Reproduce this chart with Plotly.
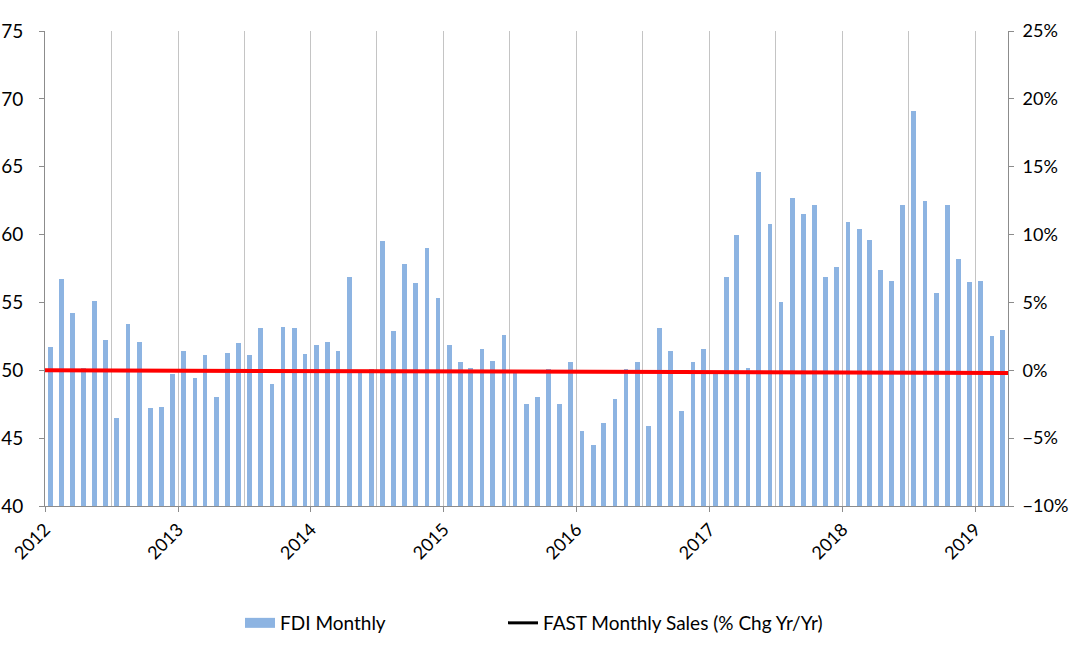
import plotly.graph_objects as go
import pandas as pd

# ---- data ----
months = pd.date_range("2012-01-01", "2019-03-01", freq="MS")
fdi_monthly = [
    51.7, 56.7, 54.2, 50.2, 55.1, 52.2, 46.5, 53.4, 52.1, 47.2, 47.3, 49.7,  # 2012
    51.4, 49.4, 51.1, 48.0, 51.3, 52.0, 51.1, 53.1, 49.0, 53.2, 53.1, 51.2,  # 2013
    51.9, 52.1, 51.4, 56.9, 49.8, 50.1, 59.5, 52.9, 57.8, 56.4, 59.0, 55.3,  # 2014
    51.9, 50.6, 50.2, 51.6, 50.7, 52.6, 49.8, 47.5, 48.0, 50.1, 47.5, 50.6,  # 2015
    45.5, 44.5, 46.1, 47.9, 50.1, 50.6, 45.9, 53.1, 51.4, 47.0, 50.6, 51.6,  # 2016
    49.7, 56.9, 60.0, 50.2, 64.6, 60.8, 55.0, 62.7, 61.5, 62.2, 56.9, 57.6,  # 2017
    60.9, 60.4, 59.6, 57.4, 56.6, 62.2, 69.1, 62.5, 55.7, 62.2, 58.2, 56.5,  # 2018
    56.6, 52.5, 53.0,                                                        # 2019
]
trend_dates = ["2011-12-08", "2019-04-01"]
trend_values = [0.0, -0.002]

bar_x = months + pd.Timedelta(days=15)

BAR_COLOR = "#8DB4E2"

fig = go.Figure()
fig.add_trace(go.Bar(
    x=bar_x, y=fdi_monthly, name="FDI Monthly", showlegend=False,
    marker=dict(color=BAR_COLOR, line=dict(width=0)),
    width=13 * 86400000,
))
# legend swatch for bars (wide rectangle like the reference)
fig.add_trace(go.Scatter(
    x=[None], y=[None], mode="lines", name="FDI Monthly",
    line=dict(color=BAR_COLOR, width=10), legend="legend",
))
fig.add_trace(go.Scatter(
    x=[None], y=[None], mode="lines", name="FAST Monthly Sales (% Chg Yr/Yr)",
    line=dict(color="black", width=3), yaxis="y2", legend="legend2",
))
fig.add_trace(go.Scatter(
    x=trend_dates, y=trend_values, mode="lines", showlegend=False,
    line=dict(color="#FF0000", width=4), yaxis="y2", cliponaxis=False,
))

font_family = "Lato, Open Sans, sans-serif"
axis_col = "#8c8c8c"
grid_col = "#c4c4c4"

legend_common = dict(
    orientation="h", xanchor="left", yanchor="top",
    xref="container", yref="container",
    font=dict(size=19), itemwidth=30, bgcolor="rgba(0,0,0,0)",
)

fig.update_layout(
    width=1073, height=654,
    margin=dict(l=45, r=65, t=31, b=148, autoexpand=False),
    paper_bgcolor="white", plot_bgcolor="white",
    font=dict(family=font_family, size=18, color="black"),
    bargap=0,
    xaxis=dict(
        type="date", range=["2012-01-01", "2019-04-01"], automargin=False,
        dtick="M12", tick0="2012-01-01", tickformat="%Y", tickangle=-45,
        showgrid=True, gridcolor=grid_col, gridwidth=1,
        minor=dict(dtick="M6", tick0="2012-01-01", showgrid=True,
                   gridcolor=grid_col, gridwidth=1, ticks=""),
        showline=True, linecolor=axis_col, linewidth=1,
        ticks="outside", ticklen=5, tickcolor=axis_col,
        tickfont=dict(size=18), zeroline=False,
    ),
    yaxis=dict(
        range=[40, 75], dtick=5, showgrid=False, zeroline=False, automargin=False,
        showline=True, linecolor=axis_col, linewidth=1,
        ticks="outside", ticklen=5, tickcolor=axis_col,
        tickfont=dict(size=19), ticklabelstandoff=12,
    ),
    yaxis2=dict(
        range=[-0.10, 0.25], dtick=0.05, tickformat=".0%", automargin=False,
        overlaying="y", side="right", showgrid=False, zeroline=False,
        showline=True, linecolor=axis_col, linewidth=1,
        ticks="outside", ticklen=5, tickcolor=axis_col,
        tickfont=dict(size=18), ticklabelstandoff=5,
    ),
    legend=dict(x=240 / 1073, y=(654 - 604) / 654, **legend_common),
    legend2=dict(x=503 / 1073, y=(654 - 604) / 654, **legend_common),
)

fig.write_html(
    "out.html",
    config={"displayModeBar": False},
    post_script="document.body.style.margin='0';",
)
